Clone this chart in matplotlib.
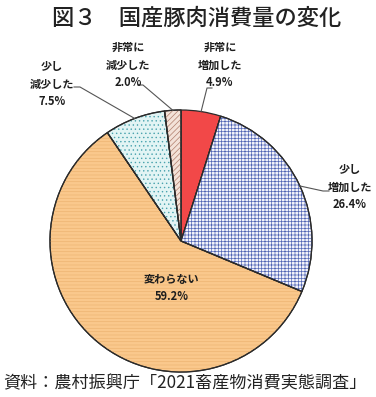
import numpy as np
import matplotlib
matplotlib.use("Agg")
import matplotlib.pyplot as plt
from matplotlib.patches import Wedge

plt.rcParams['font.family'] = ['Noto Sans CJK JP', 'DejaVu Sans']
plt.rcParams['hatch.linewidth'] = 0.5

# data
labels = ['非常に\n増加した', '少し\n増加した', '変わらない', '少し\n減少した', '非常に\n減少した']
values = [4.9, 26.4, 59.2, 7.5, 2.0]

# styles
face_colors = ['#f24848', '#f4f4fb', '#fac88c', '#e2f4f4', '#f3e2d8']
hatches = [None, '+++++', '-----', '....', '//////']
hatch_colors = [None, '#5266b4', '#eeb473', '#4aa3ae', '#b07e6c']

# label positions in pixels (x, y from top)
label_pos = [(220, 65), (350, 187), (172, 288), (52, 84), (128, 65)]
# leader: (text-side x, bend x, y)
leader_start = [(212, 207, 88), (329, 323, 191), None, (74, 80, 87), (138, 143, 85)]

H = 397
fig = plt.figure(figsize=(3.76, 3.97), dpi=100)
ax = fig.add_axes([0, 0, 1, 1])

cx, cy, r = 181, H - 241, 131
wedges, _ = ax.pie(values, startangle=90, counterclock=False, colors=face_colors,
                   center=(cx, cy), radius=r,
                   wedgeprops=dict(edgecolor='#2a2a2a', linewidth=0.9))

for w, h, hc in zip(wedges, hatches, hatch_colors):
    if h is None:
        continue
    ax.add_patch(Wedge(w.center, w.r, w.theta1, w.theta2, facecolor='none',
                       edgecolor=hc, hatch=h, linewidth=0, zorder=w.get_zorder() + 0.1))
    ax.add_patch(Wedge(w.center, w.r, w.theta1, w.theta2, facecolor='none',
                       edgecolor='#2a2a2a', linewidth=0.9, zorder=w.get_zorder() + 0.2))

for w, lab, v, (lx, ly), ls in zip(wedges, labels, values, label_pos, leader_start):
    ax.text(lx, H - ly, f"{lab}\n{v:.1f}%", ha='center', va='center',
            fontsize=8, fontweight='bold', linespacing=1.45, color='#1e1e1e', zorder=5)
    if ls is not None:
        ang = np.deg2rad((w.theta1 + w.theta2) / 2)
        ex = cx + r * np.cos(ang)
        ey = cy + r * np.sin(ang)
        ax.plot([ls[0], ls[1], ex], [H - ls[2], H - ls[2], ey], color='#555555', lw=0.8, zorder=4)

ax.set_xlim(0, 376)
ax.set_ylim(0, H)
ax.axis('off')

fig.text(197 / 376, 1 - 18 / H, '図３　国産豚肉消費量の変化', ha='center', va='center',
         fontsize=16, fontweight='medium', color='#222222')
fig.text(3 / 376, 1 - 383 / H, '資料：農村振興庁「2021畜産物消費実態調査」', ha='left', va='center',
         fontsize=12.3, color='#222222')

fig.savefig('out.png', dpi=100)
